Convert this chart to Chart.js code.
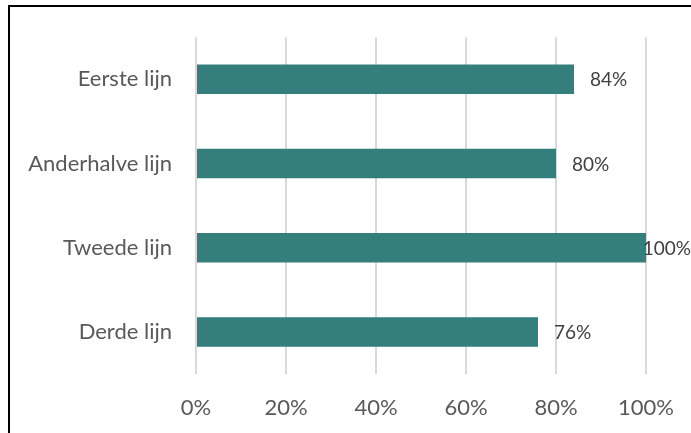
<!DOCTYPE html>
<html>
<head>
<meta charset="utf-8">
<script src="https://cdn.jsdelivr.net/npm/chart.js@4"></script>
<style>
  body { margin: 0; background: #fff; }
  #wrap { position: relative; width: 691px; height: 433px; overflow: hidden; }
  #frame { position: absolute; left: 8px; top: 5px; width: 700px; height: 450px;
           border-left: 2px solid #000; border-top: 2px solid #000; }
  canvas { position: absolute; left: 0; top: 0; }
</style>
</head>
<body>
<div id="wrap">
  <div id="frame"></div>
  <canvas id="myChart" width="691" height="433"></canvas>
</div>
<script>
// Gegevens
var categorieen = ["Eerste lijn", "Anderhalve lijn", "Tweede lijn", "Derde lijn"];
var percentages = [84, 80, 100, 76];
var tickWaarden = [0, 20, 40, 60, 80, 100];

// labels achter de balken
var labelPlugin = {
  id: "waardeLabels",
  afterDatasetsDraw: function (chart) {
    var ctx = chart.ctx;
    var meta = chart.getDatasetMeta(0);
    ctx.save();
    ctx.font = "19px Lato";
    ctx.fillStyle = "#404040";
    ctx.textAlign = "left";
    ctx.textBaseline = "middle";
    meta.data.forEach(function (bar, i) {
      var tekst = percentages[i] + "%";
      var w = ctx.measureText(tekst).width;
      var x = Math.min(bar.x + 16, chart.width - w);
      ctx.fillText(tekst, x, bar.y + 1);
    });
    ctx.restore();
  }
};

document.addEventListener("DOMContentLoaded", function () {
  var ctx = document.getElementById("myChart").getContext("2d");

  new Chart(ctx, {
    type: "bar",
    data: {
      labels: categorieen,
      datasets: [{
        data: percentages,
        backgroundColor: "#347F7B",
        borderWidth: 0,
        barPercentage: 0.35,
        categoryPercentage: 1
      }]
    },
    options: {
      indexAxis: "y",
      responsive: false,
      animation: false,
      layout: { padding: { top: 35, right: 45, left: 0, bottom: 0 } },
      plugins: { legend: { display: false }, tooltip: { enabled: false } },
      scales: {
        x: {
          min: 0,
          max: 100,
          afterBuildTicks: function (scale) {
            scale.ticks = tickWaarden.map(function (v) { return { value: v }; });
          },
          afterFit: function (scale) {
            scale.height = 59;
            scale.paddingLeft = 0;
            scale.paddingRight = 0;
          },
          grid: { color: "#d9d9d9", lineWidth: 2, drawTicks: false },
          border: { display: false },
          ticks: {
            padding: 21,
            color: "#595959",
            font: { family: "Lato", size: 22 },
            callback: function (v) { return v + "%"; }
          }
        },
        y: {
          afterFit: function (scale) { scale.width = 196; },
          grid: { display: false, drawTicks: false },
          border: { display: false },
          ticks: {
            padding: 24,
            color: "#595959",
            font: { family: "Lato", size: 22 }
          }
        }
      }
    },
    plugins: [labelPlugin]
  });
});
</script>
</body>
</html>
